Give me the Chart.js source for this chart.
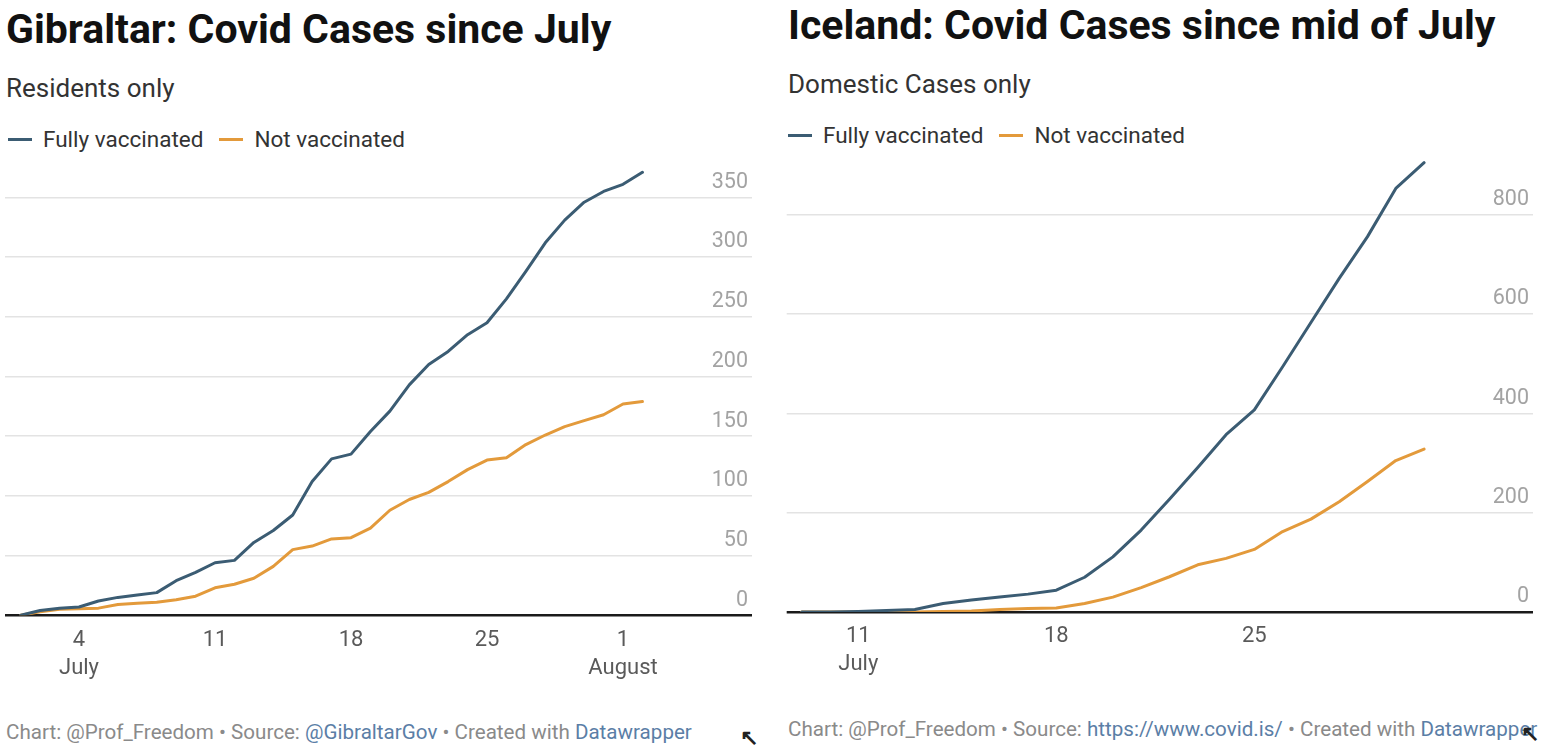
<!DOCTYPE html>
<html>
<head>
<meta charset="utf-8">
<script src="https://cdn.jsdelivr.net/npm/chart.js@4"></script>
<style>
    html, body { margin: 0; padding: 0; background: #fff; }
    body { width: 1552px; height: 754px; position: relative; overflow: hidden; font-family: Roboto, sans-serif; }
    .txt { position: absolute; white-space: nowrap; line-height: 1; }
    .title { font-size: 41px; font-weight: 700; color: #111; }
    .sub { font-size: 26px; color: #333; }
    .legend { font-size: 22.5px; color: #333; }
    .swatch { display: inline-block; width: 24px; height: 3px; vertical-align: middle; margin-right: 11px; position: relative; top: -2px; }
    .gap { display: inline-block; width: 16px; }
    .foot { font-size: 20.6px; color: #8a8a8a; }
    .foot a { color: #5b7ea6; text-decoration: none; }
    .icon { position: absolute; font-size: 22px; font-weight: 700; color: #222; }
    canvas { position: absolute; }
</style>
</head>
<body>
<div class="txt title" style="left:6px; top:9px;">Gibraltar: Covid Cases since July</div>
<div class="txt sub" style="left:6px; top:75px;">Residents only</div>
<div class="txt legend" style="left:8px; top:128px;"><span class="swatch" style="background:#3b5c73"></span>Fully vaccinated<span class="gap"></span><span class="swatch" style="background:#e39a3b"></span>Not vaccinated</div>
<div class="txt foot" style="left:6px; top:722px;">Chart: @Prof_Freedom • Source: <a>@GibraltarGov</a> • Created with <a>Datawrapper</a></div>
<div class="icon" style="left:740px; top:725px;">↖</div>

<div class="txt title" style="left:788px; top:5px;">Iceland: Covid Cases since mid of July</div>
<div class="txt sub" style="left:788px; top:71px;">Domestic Cases only</div>
<div class="txt legend" style="left:788px; top:124px;"><span class="swatch" style="background:#3b5c73"></span>Fully vaccinated<span class="gap"></span><span class="swatch" style="background:#e39a3b"></span>Not vaccinated</div>
<div class="txt foot" style="left:788px; top:719px;">Chart: @Prof_Freedom • Source: <a>https://www.covid.is/</a> • Created with <a>Datawrapper</a></div>
<div class="icon" style="left:1521px; top:721px;">↖</div>

<canvas id="gibChart" width="776" height="550" style="left:0; top:150px;"></canvas>
<canvas id="iceChart" width="776" height="560" style="left:776px; top:140px;"></canvas>

<script>
// day numbers counted from July 1 (32 = August 1)
const gibDays = [1, 2, 3, 4, 5, 6, 7, 8, 9, 10, 11, 12, 13, 14, 15, 16, 17, 18, 19, 20, 21, 22, 23, 24, 25, 26, 27, 28, 29, 30, 31, 32, 33];
const gibVaccinated = [0, 4, 6, 7, 12, 15, 17, 19, 29, 36, 44, 46, 61, 71, 84, 112, 131, 135, 154, 171, 193, 210, 221, 235, 245, 265, 288, 312, 331, 346, 355, 361, 371];
const gibNotVaccinated = [0, 3, 5, 5.5, 6, 9, 10, 11, 13, 16, 23, 26, 31, 41, 55, 58, 64, 65, 73, 88, 97, 103, 112, 122, 130, 132, 143, 151, 158, 163, 168, 177, 179];
const gibXTicks = [4, 11, 18, 25, 32];
const gibXLabels = [["4", "July"], ["11"], ["18"], ["25"], ["1", "August"]];
const gibYTicks = [0, 50, 100, 150, 200, 250, 300, 350];

const iceDays = [9, 10, 11, 12, 13, 14, 15, 16, 17, 18, 19, 20, 21, 22, 23, 24, 25, 26, 27, 28, 29, 30, 31];
const iceVaccinated = [0, 0, 1, 3, 5, 17, 24, 30, 36, 44, 70, 111, 165, 227, 291, 357, 407, 494, 583, 672, 756, 853, 905];
const iceNotVaccinated = [0, 0, 0, 0, 0, 1, 2, 5, 7, 8, 17, 30, 49, 71, 95, 108, 126, 162, 187, 222, 263, 305, 328];
const iceXTicks = [11, 18, 25];
const iceXLabels = [["11", "July"], ["18"], ["25"]];
const iceYTicks = [0, 200, 400, 600, 800];

const colors = {
    vaccinated: "#3b5c73",
    notVaccinated: "#e39a3b",
    grid: "#e3e3e3",
    baseline: "#1a1a1a",
    yLabel: "#a3a3a3",
    xLabel: "#5a5a5a",
};

function toPoints(days, values) {
    return days.map((d, i) => ({ x: d, y: values[i] }));
}

function makeChart(id, cfg) {
    const ctx = document.getElementById(id);
    return new Chart(ctx.getContext("2d"), {
        type: "line",
        data: {
            datasets: [
                {
                    label: "Fully vaccinated",
                    data: toPoints(cfg.days, cfg.vaccinated),
                    borderColor: colors.vaccinated,
                    borderWidth: 3,
                    pointRadius: 0,
                    tension: 0,
                    borderJoinStyle: "round",
                    borderCapStyle: "round",
                },
                {
                    label: "Not vaccinated",
                    data: toPoints(cfg.days, cfg.notVaccinated),
                    borderColor: colors.notVaccinated,
                    borderWidth: 3,
                    pointRadius: 0,
                    tension: 0,
                    borderJoinStyle: "round",
                    borderCapStyle: "round",
                },
            ],
        },
        options: {
            responsive: false,
            animation: false,
            layout: { padding: cfg.padding },
            plugins: {
                legend: { display: false },
                tooltip: { enabled: false },
            },
            scales: {
                x: {
                    type: "linear",
                    min: cfg.xMin,
                    max: cfg.xMax,
                    grid: { display: false, drawTicks: false },
                    border: { display: false },
                    afterBuildTicks: (scale) => {
                        scale.ticks = cfg.xTicks.map((v) => ({ value: v }));
                    },
                    afterFit: (scale) => {
                        scale.height = cfg.xAxisHeight;
                        scale.paddingLeft = 0;
                        scale.paddingRight = 0;
                    },
                    ticks: {
                        padding: 11,
                        maxRotation: 0,
                        autoSkip: false,
                        color: colors.xLabel,
                        font: { family: "Roboto", size: 22, lineHeight: 1.27 },
                        callback: (value, index) => cfg.xLabels[index],
                    },
                },
                y: {
                    position: "right",
                    min: 0,
                    max: cfg.yMax,
                    afterBuildTicks: (scale) => {
                        scale.ticks = cfg.yTicks.map((v) => ({ value: v }));
                    },
                    afterFit: (scale) => {
                        scale.width = 0;
                        scale.paddingTop = 0;
                        scale.paddingBottom = 0;
                    },
                    grid: {
                        drawTicks: false,
                        color: (c) => (c.tick.value === 0 ? colors.baseline : colors.grid),
                        lineWidth: (c) => (c.tick.value === 0 ? 2.5 : 1.5),
                    },
                    border: { display: false },
                    ticks: {
                        mirror: true,
                        padding: -4,
                        labelOffset: -15,
                        color: colors.yLabel,
                        font: { family: "Roboto", size: 21.5 },
                    },
                },
            },
        },
    });
}

makeChart("gibChart", {
    days: gibDays,
    vaccinated: gibVaccinated,
    notVaccinated: gibNotVaccinated,
    xTicks: gibXTicks,
    xLabels: gibXLabels,
    yTicks: gibYTicks,
    xMin: 0.19,
    xMax: 38.64,
    yMax: 380,
    xAxisHeight: 84.7,
    padding: { left: 5, right: 24, top: 11.6, bottom: 0 },
});

makeChart("iceChart", {
    days: iceDays,
    vaccinated: iceVaccinated,
    notVaccinated: iceNotVaccinated,
    xTicks: iceXTicks,
    xLabels: iceXLabels,
    yTicks: iceYTicks,
    xMin: 8.47,
    xMax: 34.85,
    yMax: 920,
    xAxisHeight: 88,
    padding: { left: 10.7, right: 19, top: 15.2, bottom: 0 },
});
</script>
</body>
</html>
